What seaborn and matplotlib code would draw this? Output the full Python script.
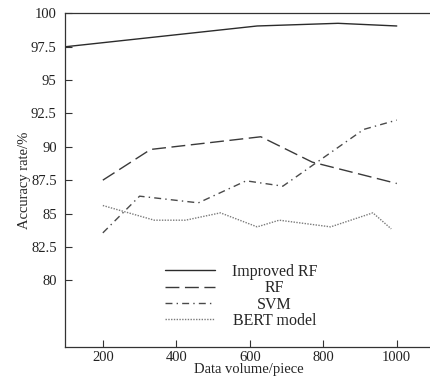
import pandas as pd
import matplotlib
matplotlib.use("Agg")
import matplotlib.pyplot as plt
import seaborn as sns

# values
models = ["Improved RF", "RF", "SVM", "BERT model"]

irf_x = [100, 620, 840, 1000]
irf_y = [97.5, 99.05, 99.25, 99.05]

rf_x = [200, 330, 630, 770, 1000]
rf_y = [87.5, 89.8, 90.75, 88.85, 87.25]

svm_x = [200, 300, 460, 590, 690, 910, 1000]
svm_y = [83.55, 86.3, 85.8, 87.45, 87.05, 91.3, 92.0]

bert_x = [200, 340, 425, 520, 620, 680, 820, 935, 985]
bert_y = [85.6, 84.5, 84.5, 85.05, 84.0, 84.5, 84.0, 85.05, 83.85]

y_ticks = [80, 82.5, 85, 87.5, 90, 92.5, 95, 97.5, 100]
y_tick_labels = ["80", "82.5", "85", "87.5", "90", "92.5", "95", "97.5", "100"]
x_ticks = [200, 400, 600, 800, 1000]

frames = []
for name, xs, ys in zip(models, [irf_x, rf_x, svm_x, bert_x], [irf_y, rf_y, svm_y, bert_y]):
    frames.append(pd.DataFrame({"volume": xs, "acc": ys, "model": name}))
df = pd.concat(frames, ignore_index=True)

sns.set_style("ticks")
plt.rcParams["font.family"] = ["Liberation Serif", "DejaVu Serif"]
plt.rcParams["font.size"] = 10.5

fig = plt.figure(figsize=(4.3, 3.83), dpi=100)
ax = fig.add_axes([65 / 430, 36 / 383, 368.5 / 430, 333.7 / 383])

palette = {"Improved RF": "#2b2b2b", "RF": "#3a3a3a", "SVM": "#4a4a4a", "BERT model": "#7a7a7a"}
dashes = {"Improved RF": "", "RF": (10, 4), "SVM": (5, 3, 1, 3), "BERT model": (1, 1)}

sns.lineplot(data=df, x="volume", y="acc", hue="model", style="model",
             hue_order=models, style_order=models, palette=palette, dashes=dashes,
             estimator=None, sort=False, linewidth=1.0, legend=False, ax=ax)

ax.set_xlim(97, 1100)
ax.set_ylim(75, 100)
ax.set_xticks(x_ticks)
ax.set_yticks(y_ticks)
ax.set_yticklabels(y_tick_labels)
ax.tick_params(axis="both", direction="in", length=5, width=0.8, colors="#333333",
               labelcolor="#222222", labelsize=10.5)
ax.tick_params(axis="y", pad=6)
ax.tick_params(axis="x", pad=3)
ax.spines["right"].set_visible(False)
for s in ["left", "top", "bottom"]:
    ax.spines[s].set_color("#333333")
    ax.spines[s].set_linewidth(0.9)

ax.set_xlabel("Data volume/piece", fontsize=10.5, labelpad=-1)
ax.set_ylabel("Accuracy rate/%", fontsize=10.5, labelpad=0)

handles = ax.get_lines()[:4]
leg = ax.legend(handles, models, loc="upper left", bbox_to_anchor=(0.271, 0.249),
                frameon=False, handlelength=3.15, handletextpad=1.05, labelspacing=0.02,
                borderpad=0, borderaxespad=0, fontsize=11.5)

# centre the legend texts in their column like the reference
fig.canvas.draw()
r = fig.canvas.get_renderer()
texts = leg.get_texts()
widths = [t.get_window_extent(r).width for t in texts]
wmax = max(widths)
for t, w in zip(texts, widths):
    t.set_x((wmax - w) / 2)

fig.savefig("out.png", dpi=100)
